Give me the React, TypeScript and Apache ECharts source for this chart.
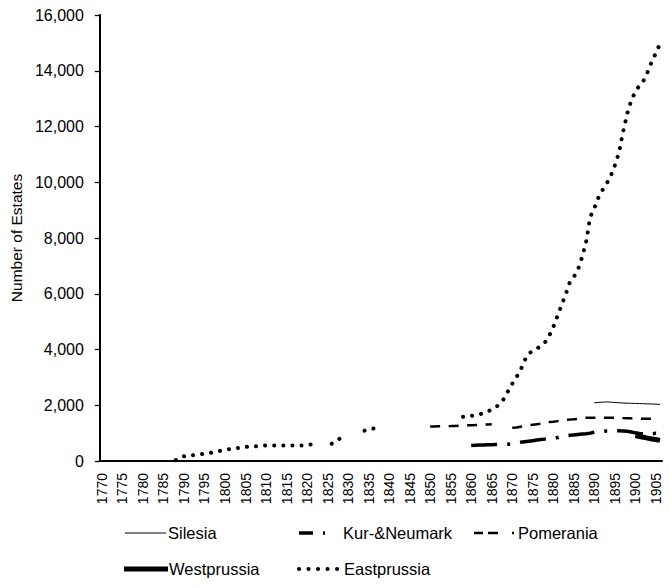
import React, { useEffect, useRef } from "react";
import * as echarts from "echarts";

const FONT = "'Liberation Sans', Arial, sans-serif";

// Categories: every year from 1770 to 1906
const firstYear = 1770;
const lastYear = 1906;
const years: string[] = [];
for (let y = firstYear; y <= lastYear; y++) years.push(String(y));

// Series values (start year + yearly values, null = gap)
const silesiaStart = 1890;
const silesia = [2090, 2100, 2110, 2120, 2110, 2100, 2090, 2080, 2075, 2070, 2065, 2060, 2055, 2050, 2045, 2040, 2030];

const kurStart = 1860;
const kurNeumark = [
  560, 565, 570, 575, 580, 585, 590, 595, 600, 605,
  620, 640, 670, 690, 710, 730, 750, 770, 785, 795,
  810, 840, 880, 900, 920, 935, 950, 965, 980, 1000,
  1030, 1045, 1060, 1080, 1090, 1090, 1085, 1075, 1065, 1040,
  1010, 990, 975, 965, 970, 1000, 960,
];

const pomStart = 1850;
const pomerania: (number | null)[] = [
  1240, 1242, 1245, 1248, 1250, 1252, 1258, 1265, 1275, 1280,
  1285, 1290, 1300, 1305, 1310, 1315, null, null, null, null,
  1190, 1200, 1230, 1260, 1280, 1300, 1320, 1340, 1380, 1395,
  1405, 1430, 1460, 1478, 1485, 1495, 1515, 1535, 1550, 1555,
  1555, 1555, 1555, 1555, 1555, 1552, 1545, 1540, 1538, 1530,
  1525, 1520, 1518, 1515, 1512, 1510,
];

const westStart = 1900;
const westprussia = [910, 880, 850, 820, 790, 770, 740];

const eastStart = 1788;
const eastprussia: (number | null)[] = [
  30, 100, 170, 195, 205, 225, 240, 260, 280, 310, 340, 370, // 1788-1799
  400, 425, 445, 460, 480, 505, 515, 520, 530, 545, // 1800-1809
  560, 560, 560, 560, 560, 560, 560, 560, 560, 560, // 1810-1819
  575, 595, null, null, null, null, 620, 700, 810, null, // 1820-1829
  null, null, null, null, 1090, 1130, 1160, 1170, null, null, // 1830-1839
  null, null, null, null, null, null, null, null, null, null, // 1840-1849
  null, null, null, null, null, null, null, null, 1585, 1600, // 1850-1859
  1620, 1640, 1670, 1720, 1780, 1840, 1930, 2050, 2240, 2510, // 1860-1869
  2770, 3000, 3250, 3600, 3850, 3950, 4020, 4150, 4260, 4490, // 1870-1879
  4800, 5190, 5580, 5960, 6400, 6600, 6850, 7300, 7850, 8750, // 1880-1889
  9070, 9450, 9720, 9950, 10220, 10600, 11050, 11800, 12450, 12930, // 1890-1899
  13250, 13470, 13650, 13950, 14320, 14630, 14970, // 1900-1906
];

const yTicks = { min: 0, max: 16000, interval: 2000 };

function align(start: number, values: (number | null)[]): (number | null)[] {
  return years.map((y) => {
    const i = Number(y) - start;
    return i >= 0 && i < values.length ? values[i] : null;
  });
}

function fmt(v: number): string {
  return String(v).replace(/\B(?=(\d{3})+(?!\d))/g, ",");
}

export default function App() {
  const ref = useRef<HTMLDivElement>(null);
  useEffect(() => {
    if (!ref.current) return;
    const chart = echarts.init(ref.current, null, { renderer: "svg" });
    const legendText = (text: string, x: number, y: number) => ({
      type: "text",
      style: { text, x, y, fill: "#000", font: `16.5px ${FONT}`, textAlign: "left", textVerticalAlign: "middle" },
    });
    const legendLine = (x1: number, x2: number, y: number, width: number, dash?: number[], cap = "butt") => ({
      type: "line",
      shape: { x1, y1: y, x2, y2: y },
      style: { stroke: "#000", lineWidth: width, lineDash: dash, lineCap: cap },
    });
    const base = { type: "line", symbol: "none", connectNulls: false, silent: true };
    chart.setOption({
      animation: false,
      backgroundColor: "#fff",
      grid: { left: 91, right: 8, top: 15, bottom: 127, containLabel: false },
      xAxis: {
        type: "category",
        data: years,
        boundaryGap: true,
        axisLine: { lineStyle: { color: "#000", width: 2 } },
        axisTick: { interval: 2, length: 5, lineStyle: { color: "#000", width: 1.3 } },
        axisLabel: { interval: 4, rotate: 90, margin: 12, fontSize: 14, color: "#000", fontFamily: FONT },
        splitLine: { show: false },
      },
      yAxis: {
        type: "value",
        min: yTicks.min,
        max: yTicks.max,
        interval: yTicks.interval,
        name: "Number of Estates",
        nameLocation: "middle",
        nameGap: 68,
        nameTextStyle: { fontSize: 15.5, color: "#000", fontFamily: FONT },
        axisLine: { show: true, lineStyle: { color: "#000", width: 2 } },
        axisTick: { show: true, length: 5, lineStyle: { color: "#000", width: 1.3 } },
        axisLabel: { margin: 16, fontSize: 16, color: "#000", fontFamily: FONT, formatter: (v: number) => fmt(v) },
        splitLine: { show: false },
      },
      series: [
        { ...base, name: "Silesia", data: align(silesiaStart, silesia), lineStyle: { color: "#000", width: 1 } },
        { ...base, name: "Pomerania", data: align(pomStart, pomerania), lineStyle: { color: "#000", width: 2.5, type: [10, 8.5] } },
        { ...base, name: "Kur-&Neumark", data: align(kurStart, kurNeumark), lineStyle: { color: "#000", width: 3.5, type: [26, 10, 3, 10] } },
        { ...base, name: "Westprussia", data: align(westStart, westprussia), lineStyle: { color: "#000", width: 5 } },
        { ...base, name: "Eastprussia", data: align(eastStart, eastprussia), lineStyle: { color: "#000", width: 4, type: [0.1, 9], cap: "round" } },
      ],
      graphic: [
        legendLine(125, 166, 533, 1),
        legendText("Silesia", 168, 533),
        legendLine(299, 330, 533, 3.5, [14, 10, 2, 10]),
        legendText("Kur-&Neumark", 343, 533),
        legendLine(474, 515, 533, 2.5, [9, 5, 10, 14, 2, 10]),
        legendText("Pomerania", 518, 533),
        legendLine(124, 168, 569, 5),
        legendText("Westprussia", 169, 569),
        legendLine(299, 339, 569, 4, [0.1, 9.4], "round"),
        legendText("Eastprussia", 344, 569),
      ],
    });
    return () => chart.dispose();
  }, []);
  return <div ref={ref} style={{ position: "fixed", left: 0, top: 0, width: 670, height: 588 }} />;
}
